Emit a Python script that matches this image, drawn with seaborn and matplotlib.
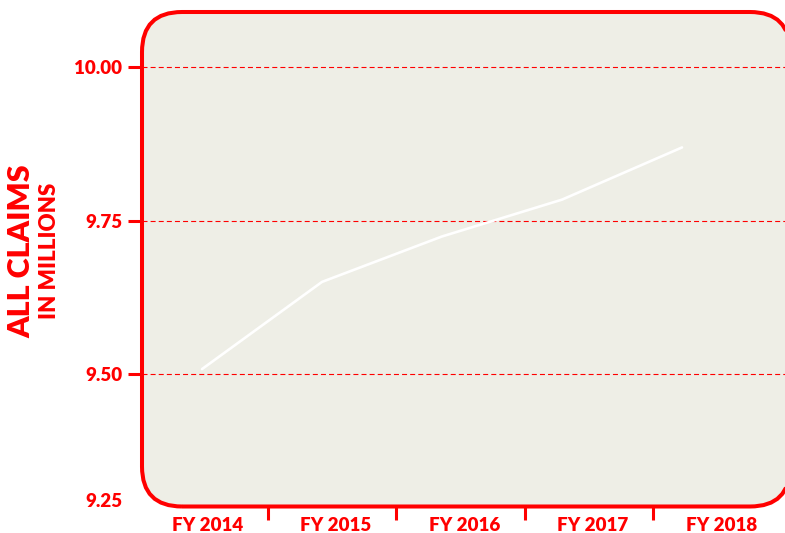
import matplotlib
matplotlib.use("Agg")
import matplotlib.pyplot as plt
from matplotlib.patches import FancyBboxPatch, Polygon
from matplotlib.transforms import IdentityTransform
import seaborn as sns
import pandas as pd

# ---- data ----
fiscal_years = ["FY 2014", "FY 2015", "FY 2016", "FY 2017", "FY 2018"]
claims_millions = [9.508, 9.650, 9.724, 9.784, 9.869]
y_ticks = [9.50, 9.75, 10.00]
y_tick_labels = ["9.50", "9.75", "10.00"]
bottom_label = "9.25"

RED = "#FF0000"
BG = "#EEEEE6"

sns.set_theme(style="white")
plt.rcParams["font.family"] = ["Lato", "DejaVu Sans"]

W, H = 785, 533
fig = plt.figure(figsize=(W / 100, H / 100), dpi=100)
L, R, T, B = 142.0, 790.0, 12.0, 506.5
ax = fig.add_axes([L / W, (H - B) / H, (R - L) / W, (B - T) / H])
ax.patch.set_visible(False)
for s in ax.spines.values():
    s.set_visible(False)

df = pd.DataFrame({"idx": range(len(fiscal_years)), "claims": claims_millions})
sns.lineplot(data=df, x="idx", y="claims", ax=ax, color="white", lw=1.9,
             solid_capstyle="round", solid_joinstyle="round", zorder=3)

ax.set_xlim(-0.5, 4.9)
ax.set_ylim(9.2842, 10.0896)

# rounded frame (pixel coordinates), flattened into a polygon
rad = 40.0
shape = FancyBboxPatch((L, H - B), R - L, B - T,
                       boxstyle=f"round,pad=0,rounding_size={rad}")
verts = shape.get_path().to_polygons()[0]
fill = Polygon(verts, closed=True, transform=IdentityTransform(),
               facecolor=BG, edgecolor="none", zorder=-1)
edge = Polygon(verts, closed=True, transform=IdentityTransform(),
               facecolor="none", edgecolor=RED, lw=2.9, zorder=5)
fig.add_artist(fill)
fig.add_artist(edge)

# y axis
ax.set_yticks(y_ticks)
ax.set_yticklabels(y_tick_labels)
ax.tick_params(axis="y", which="major", left=True, length=10, width=2.2, color=RED,
               pad=4.3, labelsize=13.5, labelcolor=RED)
for t in ax.get_yticklabels():
    t.set_fontweight("heavy")
ax.yaxis.grid(True, color=RED, lw=0.8, linestyle=(0, (4.5, 2.8)))
ax.xaxis.grid(False)
ax.set_axisbelow(True)

ax.annotate(bottom_label, xy=(0, 0.01), xycoords="axes fraction",
            xytext=(-14.4, 0), textcoords="offset points", ha="right", va="center",
            color=RED, fontsize=13.5, fontweight="heavy")

# x axis: labels and separator ticks
lab_pos = [(207.5 + 128.5 * i - 202) / 120 for i in range(len(fiscal_years))]
sep_pos = [(268 + 128.3 * i - 202) / 120 for i in range(len(fiscal_years) - 1)]
ax.set_xticks(lab_pos)
ax.set_xticklabels(fiscal_years)
ax.set_xticks(sep_pos, minor=True)
ax.tick_params(axis="x", which="major", bottom=True, length=0, pad=7.5,
               labelsize=13.5, labelcolor=RED)
ax.tick_params(axis="x", which="minor", bottom=True, length=9, width=2.2, color=RED)
for t in ax.get_xticklabels():
    t.set_fontweight("heavy")
ax.set_xlabel("")
ax.set_ylabel("")

fig.text(21 / W, 1 - 251 / H, "ALL CLAIMS", rotation=90, ha="center", va="center",
         color=RED, fontsize=22, fontweight="heavy")
fig.text(50 / W, 1 - 251 / H, "IN MILLIONS", rotation=90, ha="center", va="center",
         color=RED, fontsize=16, fontweight="heavy")

fig.savefig("out.png", dpi=100, facecolor="white")
